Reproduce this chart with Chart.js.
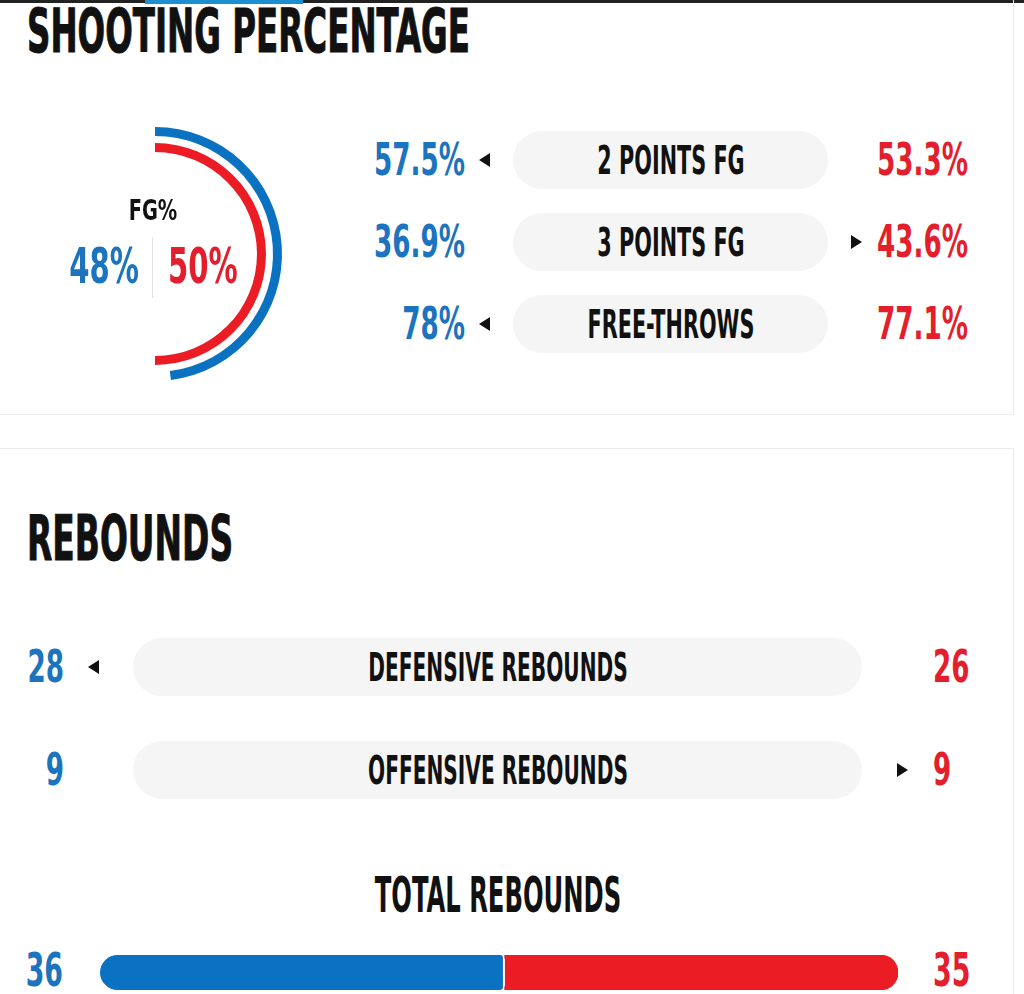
<!DOCTYPE html>
<html>
<head>
<meta charset="utf-8">
<script src="https://cdn.jsdelivr.net/npm/chart.js@4.4.1/dist/chart.umd.min.js"></script>
<style>
  html, body { margin: 0; padding: 0; background: #fff; }
  body { width: 1024px; height: 994px; position: relative; overflow: hidden; }
  .abs { position: absolute; }
  .t {
    position: absolute; white-space: nowrap; line-height: 1.164;
    font-family: 'DejaVu Sans Condensed', 'DejaVu Sans', sans-serif;
    font-weight: bold; transform-origin: 0 0;
  }
  .pill { position: absolute; background: #f5f5f5; border-radius: 29px; }
  .tri { position: absolute; width: 0; height: 0; }
</style>
</head>
<body>
<div class="abs" style="left:0;top:0;width:1024px;height:3px;background:#222"></div>
<div class="abs" style="left:145px;top:0;width:158px;height:4px;background:#1b8fd0"></div>
<div class="abs" style="left:0;top:0;width:1013px;height:414px;border-right:1px solid #ececec;border-bottom:1px solid #ececec"></div>
<div class="abs" style="left:0;top:448px;width:1013px;height:560px;border-right:1px solid #ececec;border-top:1px solid #ececec"></div>

<div class="abs" style="left:5px;top:104px;width:300px;height:300px"><canvas id="fgChart"></canvas></div>
<div class="abs" style="left:152px;top:237px;width:1px;height:61px;background:#e2e2e2"></div>
<div class="abs" style="left:100px;top:955px;width:798px;height:35px"><canvas id="totalChart"></canvas></div>

<script>
// game stats
const fgPct = [48, 50];
const shotLabels = ['2 POINTS FG', '3 POINTS FG', 'FREE-THROWS'];
const homeShot = [57.5, 36.9, 78];
const awayShot = [53.3, 43.6, 77.1];
const rebLabels = ['DEFENSIVE REBOUNDS', 'OFFENSIVE REBOUNDS'];
const homeReb = [28, 9];
const awayReb = [26, 9];
const totalReb = [36, 35];

const BLUE = '#1b74bd';
const RED = '#e41f2d';
const BAR_BLUE = '#0b72c1';
const BAR_RED = '#ec1c24';
const INK = '#111';

// natural width of a string in the text font, used to squeeze it to a condensed look
function natW(str, size) {
  const el = document.createElement('span');
  el.className = 't';
  el.style.fontSize = size + 'px';
  el.textContent = str;
  document.body.appendChild(el);
  const w = el.getBoundingClientRect().width;
  el.remove();
  return w;
}
const LBL = 443 / natW('SHOOTING PERCENTAGE', 61);
const NUM = 91 / natW('57.5%', 45);

// put a text so that point (align) of its baseline sits at x, y
function txt(str, x, y, size, color, align, sx, stroke) {
  const el = document.createElement('div');
  el.className = 't';
  el.textContent = str;
  el.style.fontSize = size + 'px';
  el.style.color = color;
  el.style.left = x + 'px';
  el.style.top = (y - 0.928 * size) + 'px';
  if (stroke) el.style.webkitTextStroke = stroke + 'px ' + color;
  const a = align === 'right' ? 1 : align === 'center' ? 0.5 : 0;
  el.style.transform = `scaleX(${sx}) translateX(${-a * 100}%)`;
  document.body.appendChild(el);
}

function pill(x, y, w, h) {
  const el = document.createElement('div');
  el.className = 'pill';
  Object.assign(el.style, { left: x + 'px', top: y + 'px', width: w + 'px', height: h + 'px' });
  document.body.appendChild(el);
}

function arrow(x, yc, dir) {
  const el = document.createElement('div');
  el.className = 'tri';
  el.style.left = x + 'px';
  el.style.top = (yc - 7) + 'px';
  el.style.borderTop = '7px solid transparent';
  el.style.borderBottom = '7px solid transparent';
  if (dir === 'left') el.style.borderRight = '11px solid #111';
  else el.style.borderLeft = '11px solid #111';
  document.body.appendChild(el);
}

// shooting percentage
txt('SHOOTING PERCENTAGE', 27, 52, 61, INK, 'left', LBL, 1);
txt('FG%', 153, 221, 28, INK, 'center', LBL * 1.3);
txt(fgPct[0] + '%', 139, 283, 50, BLUE, 'right', NUM);
txt(fgPct[1] + '%', 168, 283, 50, RED, 'left', NUM);

const shotRowY = [160, 242, 324];
shotLabels.forEach((lab, i) => {
  const yc = shotRowY[i];
  pill(513, yc - 29, 315, 58);
  txt(lab, 671, yc + 14, 39, INK, 'center', LBL);
  txt(homeShot[i] + '%', 465, yc + 16, 45, BLUE, 'right', NUM);
  txt(awayShot[i] + '%', 968, yc + 16, 45, RED, 'right', NUM);
  if (homeShot[i] > awayShot[i]) arrow(479, yc, 'left');
  else arrow(851, yc, 'right');
});

// rebounds
txt('REBOUNDS', 27, 560, 63, INK, 'left', LBL * 0.98, 1);
const rebRowY = [667, 770];
rebLabels.forEach((lab, i) => {
  const yc = rebRowY[i];
  pill(133, yc - 29, 729, 58);
  txt(lab, 498, yc + 14, 39, INK, 'center', LBL * 0.97);
  txt(String(homeReb[i]), 64, yc + 16, 45, BLUE, 'right', NUM);
  txt(String(awayReb[i]), 933, yc + 16, 45, RED, 'left', NUM);
  if (homeReb[i] > awayReb[i]) arrow(88, yc, 'left');
  else arrow(897, yc, 'right');
});
txt('TOTAL REBOUNDS', 498, 912, 49, INK, 'center', LBL * 0.93);
txt(String(totalReb[0]), 63, 987, 46, BLUE, 'right', NUM);
txt(String(totalReb[1]), 933, 987, 46, RED, 'left', NUM);

// FG% rings: outer blue, transparent gap, inner red
new Chart(document.getElementById('fgChart'), {
  type: 'doughnut',
  data: {
    labels: ['made', 'missed'],
    datasets: [
      { data: [fgPct[0], 100 - fgPct[0]], backgroundColor: [BAR_BLUE, 'rgba(0,0,0,0)'], borderWidth: 0, weight: 9 },
      { data: [100], backgroundColor: ['rgba(0,0,0,0)'], borderWidth: 0, weight: 7 },
      { data: [fgPct[1], 100 - fgPct[1]], backgroundColor: [BAR_RED, 'rgba(0,0,0,0)'], borderWidth: 0, weight: 9 }
    ]
  },
  options: {
    responsive: true,
    maintainAspectRatio: false,
    animation: false,
    radius: 127,
    cutout: '80.3%',
    layout: { padding: 0 },
    plugins: { legend: { display: false }, tooltip: { enabled: false } }
  }
});

// total rebounds split bar
new Chart(document.getElementById('totalChart'), {
  type: 'bar',
  data: {
    labels: ['TOTAL REBOUNDS'],
    datasets: [
      {
        data: [totalReb[0]], backgroundColor: BAR_BLUE, borderColor: '#fff',
        borderWidth: { top: 0, left: 0, bottom: 0, right: 2 },
        borderSkipped: false,
        borderRadius: { topLeft: 18, bottomLeft: 18, topRight: 5, bottomRight: 5 }
      },
      {
        data: [totalReb[1]], backgroundColor: BAR_RED, borderWidth: 0,
        borderSkipped: false,
        borderRadius: { topLeft: 0, bottomLeft: 0, topRight: 18, bottomRight: 18 }
      }
    ]
  },
  options: {
    indexAxis: 'y',
    responsive: true,
    maintainAspectRatio: false,
    animation: false,
    barPercentage: 1,
    categoryPercentage: 1,
    layout: { padding: 0 },
    scales: {
      x: { display: false, stacked: true, min: 0, max: totalReb[0] + totalReb[1] },
      y: { display: false, stacked: true }
    },
    plugins: { legend: { display: false }, tooltip: { enabled: false } }
  }
});
</script>
</body>
</html>
